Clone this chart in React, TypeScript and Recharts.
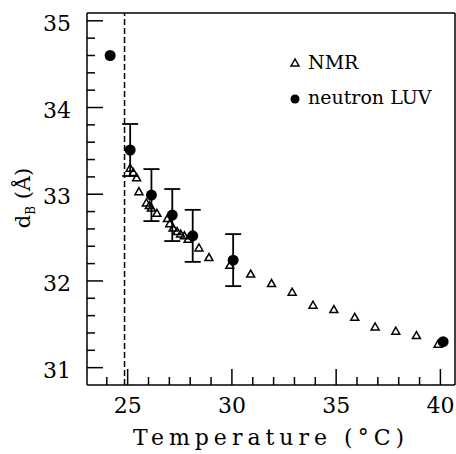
import { ScatterChart, Scatter, XAxis, YAxis, ErrorBar, ReferenceLine, Legend, Label } from 'recharts'

const FONT = "'DejaVu Serif', serif"

// NMR (open triangles)
const nmrTemp = [25.12, 25.27, 25.43, 25.54, 25.9, 26.04, 26.14, 26.4, 26.91, 27.02, 27.18, 27.37, 27.54, 27.72, 27.9, 28.42, 28.9, 29.9, 30.9, 31.9, 32.89, 33.89, 34.89, 35.89, 36.87, 37.86, 38.85, 39.89]
const nmrD = [33.3, 33.25, 33.19, 33.03, 32.9, 32.87, 32.84, 32.78, 32.72, 32.66, 32.61, 32.57, 32.54, 32.52, 32.48, 32.38, 32.27, 32.18, 32.08, 31.97, 31.87, 31.72, 31.67, 31.58, 31.47, 31.42, 31.37, 31.27]

// neutron LUV (filled circles, with error bars)
const luvTemp = [24.16, 25.12, 26.14, 27.14, 28.12, 30.06, 40.13]
const luvD = [34.6, 33.51, 32.99, 32.76, 32.52, 32.24, 31.3]
const luvErr = [0, 0.3, 0.3, 0.3, 0.3, 0.3, 0]

const xTicks = [24, 25, 26, 27, 28, 29, 30, 31, 32, 33, 34, 35, 36, 37, 38, 39, 40]
const xMajor = [25, 30, 35, 40]
const yTicks = [31, 31.2, 31.4, 31.6, 31.8, 32, 32.2, 32.4, 32.6, 32.8, 33, 33.2, 33.4, 33.6, 33.8, 34, 34.2, 34.4, 34.6, 34.8, 35]
const yMajor = [31, 32, 33, 34, 35]

const transitionTemp = 24.85

const nmrData = nmrTemp.map((t, i) => ({ t, d: nmrD[i] }))
const luvData = luvTemp.map((t, i) => ({ t, d: luvD[i], err: luvErr[i] }))

const isMajor = (v: number, list: number[]) => list.some(m => Math.abs(m - v) < 1e-6)

const XTick = (props: any) => {
  const { x, y, payload } = props
  const major = isMajor(payload.value, xMajor)
  return (
    <g>
      <line x1={x} x2={x} y1={y} y2={y - (major ? 16 : 8)} stroke="#000" strokeWidth={1.5} />
      {major && (
        <text x={x} y={y + 28} textAnchor="middle" fontFamily={FONT} fontSize={22} fill="#000">
          {payload.value}
        </text>
      )}
    </g>
  )
}

const YTick = (props: any) => {
  const { x, y, payload } = props
  const major = isMajor(payload.value, yMajor)
  return (
    <g>
      <line x1={x} x2={x + (major ? 16 : 8)} y1={y} y2={y} stroke="#000" strokeWidth={1.5} />
      {major && (
        <text x={x - 16} y={y + 10} textAnchor="end" fontFamily={FONT} fontSize={22} fill="#000">
          {payload.value}
        </text>
      )}
    </g>
  )
}

const Triangle = (props: any) => {
  const { cx, cy } = props
  return (
    <polygon
      points={`${cx},${cy - 4} ${cx - 4},${cy + 3} ${cx + 4},${cy + 3}`}
      fill="none"
      stroke="#000"
      strokeWidth={1.5}
    />
  )
}

const Dot = (props: any) => {
  const { cx, cy } = props
  return <circle cx={cx} cy={cy} r={5.5} fill="#000" />
}

const LegendBox = () => (
  <svg width={170} height={62}>
    <polygon points="11,9 7,16 15,16" fill="none" stroke="#000" strokeWidth={1.5} />
    <text x={24} y={19} fontFamily={FONT} fontSize={19} fill="#000">NMR</text>
    <circle cx={11} cy={49} r={4.5} fill="#000" />
    <text x={24} y={54} fontFamily={FONT} fontSize={19} fill="#000">neutron LUV</text>
  </svg>
)

const YLabel = () => (
  <text transform="translate(30,198) rotate(-90)" textAnchor="middle" fontFamily={FONT} fontSize={21} fill="#000">
    d<tspan fontSize={12} dy={5}>B</tspan>
    <tspan dy={-5}> (Å)</tspan>
  </text>
)

const XLabel = () => (
  <text x={271} y={445} textAnchor="middle" fontFamily={FONT} fontSize={22} letterSpacing={5} fill="#000">
    Temperature (°C)
  </text>
)

export default function App() {
  return (
    <div style={{ position: 'absolute', left: 0, top: 0, background: '#fff' }}>
      <ScatterChart width={456} height={454} margin={{ top: 13, right: 1, bottom: 0, left: 0 }}>
        <XAxis
          type="number"
          dataKey="t"
          domain={[23.05, 40.7]}
          allowDataOverflow
          ticks={xTicks}
          interval={0}
          tick={XTick}
          tickLine={false}
          tickSize={0}
          tickMargin={0}
          height={69}
          axisLine={{ stroke: '#000', strokeWidth: 1.5 }}
        >
          <Label content={XLabel} />
        </XAxis>
        <YAxis
          type="number"
          dataKey="d"
          domain={[30.8, 35.09]}
          allowDataOverflow
          ticks={yTicks}
          interval={0}
          tick={YTick}
          tickLine={false}
          tickSize={0}
          tickMargin={0}
          width={87}
          axisLine={{ stroke: '#000', strokeWidth: 1.5 }}
        >
          <Label content={YLabel} />
        </YAxis>
        <ReferenceLine y={35.09} stroke="#000" strokeWidth={1.5} />
        <ReferenceLine x={40.7} stroke="#000" strokeWidth={1.5} />
        <ReferenceLine x={transitionTemp} stroke="#000" strokeWidth={1.5} strokeDasharray="6 3" />
        <Legend
          layout="horizontal"
          verticalAlign="middle"
          align="center"
          wrapperStyle={{ left: 284, top: 50, width: 170, height: 62 }}
          content={LegendBox}
        />
        <Scatter name="NMR" data={nmrData} shape={Triangle} isAnimationActive={false} />
        <Scatter name="neutron LUV" data={luvData} shape={Dot} isAnimationActive={false}>
          <ErrorBar dataKey="err" direction="y" width={8} stroke="#000" strokeWidth={1.8} isAnimationActive={false} />
        </Scatter>
      </ScatterChart>
    </div>
  )
}
